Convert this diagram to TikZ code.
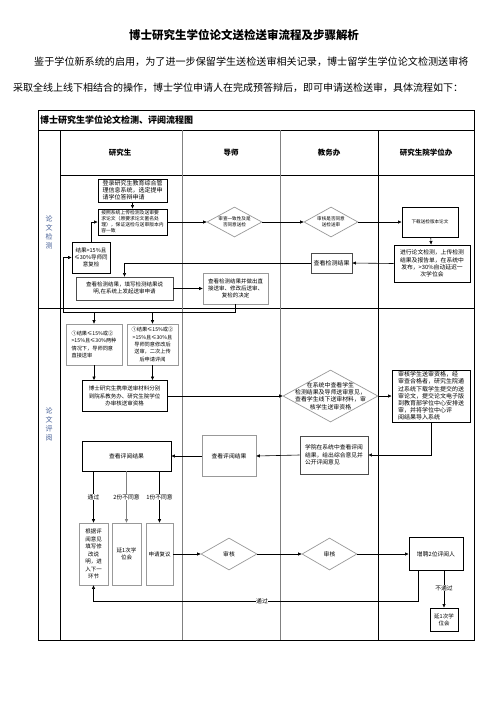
\documentclass[tikz,border=0pt]{standalone}
\usepackage{fontspec}
\setmainfont{Noto Sans CJK SC}
\usetikzlibrary{shapes.geometric,arrows.meta,calc}
\newcommand{\myfz}[2]{\fontsize{#1pt}{#2pt}\selectfont}
\definecolor{seclab}{RGB}{70,95,150}
\begin{document}
\begin{tikzpicture}[x=1pt,y=-1pt,
  bx/.style={draw, line width=0.9pt, inner sep=1pt, align=center},
  gbx/.style={bx, draw=gray!80, line width=0.7pt},
  dbx/.style={bx, draw=black!70, line width=0.8pt},
  dia/.style={diamond, draw=gray!80, line width=0.7pt, inner sep=0pt, aspect=1.8},
  arr/.style={-{Triangle[length=3.5pt,width=3pt]}, line width=0.6pt},
  ln/.style={line width=0.6pt},
  lab/.style={fill=white, inner sep=0.6pt, font=\myfz{5.8}{7}},
  colhead/.style={font=\bfseries\myfz{7.5}{8}},
  sec/.style={font=\myfz{7}{9}, text=seclab, align=center}
]
\fill[white] (0,0) rectangle (496,702);
\useasboundingbox (0,0) rectangle (496,702);

% title and paragraph
\node[font=\bfseries\myfz{11.5}{12}] (title) at (244,35) {博士研究生学位论文送检送审流程及步骤解析};
\node[anchor=west, font=\myfz{10.1}{12}, inner sep=0] (p1) at (34,62) {鉴于学位新系统的启用，为了进一步保留学生送检送审相关记录，博士留学生学位论文检测送审将};
\node[anchor=west, font=\myfz{10}{12}, inner sep=0] (p2) at (13,88) {采取全线上线下相结合的操作，博士学位申请人在完成预答辩后，即可申请送检送审，具体流程如下：};

% table frame
\draw[line width=0.8pt] (38,110) rectangle (474,640);
\draw[line width=0.7pt] (38,130) -- (474,130);
\draw[line width=0.7pt] (60,175) -- (474,175);
\draw[line width=0.7pt] (38,308) -- (474,308);
\draw[line width=0.7pt] (60,130) -- (60,640);
\draw[line width=0.6pt, gray] (182,130) -- (182,640);
\draw[line width=0.6pt, gray] (280,130) -- (280,640);
\draw[line width=0.7pt] (378,130) -- (378,640);

\node[anchor=west, font=\bfseries\myfz{9}{10}, inner sep=0] (th) at (40,120) {博士研究生学位论文检测、评阅流程图};
\node[colhead] (h1) at (120,153) {研究生};
\node[colhead] (h2) at (231,153) {导师};
\node[colhead] (h3) at (329,153) {教务办};
\node[colhead] (h4) at (426,153) {研究生院学位办};
\node[sec] (s1) at (49,232) {论\\文\\检\\测};
\node[sec] (s2) at (49,424) {论\\文\\评\\阅};

% ---- 论文检测 ----
\node[bx, minimum width=69pt, minimum height=23pt, font=\myfz{6}{7}, align=left] (A) at (132.5,190.5) {登录研究生教育综合管\\理信息系统，选定提申\\请学位答辩申请};
\node[bx, minimum width=69pt, minimum height=26pt, font=\myfz{4.8}{6}, align=left] (B) at (132.5,222) {按照系统上传检测及送审要\\求论文（原要求论文匿名处\\理），保证送检与送审版本内\\容一致};
\node[dia, minimum width=55pt, minimum height=30pt] (D1) at (234.5,222) {};
\node[font=\myfz{4.6}{6}, align=center, inner sep=0] (D1t) at (D1) {审查一致性及是\\否同意送检};
\node[dia, minimum width=54pt, minimum height=30pt] (D2) at (331,222) {};
\node[font=\myfz{4.6}{6}, align=center, inner sep=0] (D2t) at (D2) {审核是否同意\\送检送审};
\node[bx, minimum width=56pt, minimum height=30pt, font=\myfz{4.6}{6}] (C) at (430,222) {下载送检版本论文};
\node[bx, minimum width=76pt, minimum height=37pt, font=\myfz{5.8}{7.2}] (E) at (432,263.5) {进行论文检测，上传检测\\结果及报告单，在系统中\\发布，>30\%自动延迟一\\次学位会};
\node[dbx, minimum width=41pt, minimum height=20pt, font=\myfz{6}{7}] (F) at (331.5,263) {查看检测结果};
\node[bx, minimum width=38pt, minimum height=31pt, font=\myfz{5.5}{7}] (K) at (91,257.5) {结果>15\%且\\≤30\%导师同\\意复检};
\node[dbx, minimum width=97pt, minimum height=23pt, font=\myfz{5.5}{7}] (G) at (124.5,288.5) {查看检测结果，填写检测结果说\\明,在系统上发起送审申请};
\node[gbx, minimum width=65pt, minimum height=31pt, font=\myfz{5.5}{7}] (H) at (235.5,288.5) {查看检测结果并做出直\\接送审、修改后送审、\\复检的决定};

\draw[arr] (A) -- (B);
\draw[arr] (B) -- (D1);
\draw[arr] (D1) -- (D2);
\draw[arr] (D2) -- (C);
\draw[arr] (C) -- (E);
\draw[arr] (E.west) -- (F.east);
\draw[arr] (F.west) -| (G.north);
\draw[arr] (G.east) -- (H.west);
\draw[arr] (K.north) |- (B.west);
\coordinate (j1) at (63,312);
\draw[arr] (H.south) |- (j1) |- (K.west);

% ---- 论文评阅 ----
\node[gbx, minimum width=56pt, minimum height=41pt, font=\myfz{5.2}{7.6}, align=left] (L1) at (94,344.5) {①结果≤15\%或②\\>15\%且≤30\%两种\\情况下，导师同意\\直接送审};
\node[gbx, minimum width=51pt, minimum height=41pt, font=\myfz{5.2}{7.4}] (L2) at (152.5,344.5) {①结果≤15\%或②\\>15\%且≤30\%且\\导师同意修改后\\送审，二次上传\\后申请评阅};
\draw[arr] (L1.north |- j1) -- (L1.north);
\draw[arr] (L2.north |- j1) -- (L2.north);

\node[bx, minimum width=85pt, minimum height=31pt, font=\myfz{5.5}{7.5}] (M) at (124.5,396) {博士研究生携带送审材料分别\\到院系教务办、研究生院学位\\办审核送审资格};
\draw[arr] (L1.south) -- (L1.south |- M.north);
\draw[arr] (L2.south) -- (L2.south |- M.north);

\node[dia, minimum width=95pt, minimum height=52pt, aspect=1.83] (N) at (330.5,396) {};
\node[font=\myfz{5.9}{7.3}, align=center, inner sep=0] (Nt) at (N) {在系统中查看学生\\检测结果及导师送审意见，\\查看学生线下送审材料，审\\核学生送审资格};
\node[bx, minimum width=78pt, minimum height=52pt, font=\myfz{6}{7.2}, align=left] (P) at (431,396) {审核学生送审资格，经\\审查合格者，研究生院通\\过系统下载学生提交的送\\审论文，提交论文电子版\\到教育部学位中心安排送\\审，并将学位中心评\\阅结果导入系统};
\draw[arr] (M.east) -- (N.west);
\draw[arr] (N.east) -- (P.west);

\node[dbx, minimum width=68pt, minimum height=38pt, font=\myfz{5.8}{7.5}, align=left] (Q) at (334,455) {学院在系统中查看评阅\\结果，给出综合意见并\\公开评阅意见};
\node[gbx, minimum width=54pt, minimum height=41pt, font=\myfz{5.8}{7}] (R) at (229,456) {查看评阅结果};
\node[bx, minimum width=89pt, minimum height=30pt, font=\myfz{5.8}{7}] (S) at (126.5,456) {查看评阅结果};
\draw[arr] (P.south) |- (Q.east);
\draw[arr] (Q.west) -- (R.east);
\draw[arr] (R.west) -- (S.east);

\node[gbx, minimum width=29pt, minimum height=62pt, font=\myfz{5.5}{7.5}] (T1) at (93.5,554) {根据评\\阅意见\\填写修\\改说\\明，进\\入下一\\环节};
\node[gbx, minimum width=29pt, minimum height=62pt, font=\myfz{5.5}{7.5}] (T2) at (126.5,554) {延1次学\\位会};
\node[gbx, minimum width=27pt, minimum height=62pt, font=\myfz{5.5}{7.5}] (T3) at (159.5,554) {申请复议};
\draw[arr] (T1.north |- S.south) -- (T1.north);
\draw[arr, gray] (T2.north |- S.south) -- (T2.north);
\draw[arr] (T3.north |- S.south) -- (T3.north);
\node[lab] (l1) at (93.5,497) {通过};
\node[lab] (l2) at (126.5,497) {2份不同意};
\node[lab] (l3) at (159.5,497) {1份不同意};

\node[dia, minimum width=56pt, minimum height=32pt, aspect=1.75] (U) at (229,554) {};
\node[font=\myfz{5.8}{7}, inner sep=0] (Ut) at (U) {审核};
\node[dia, minimum width=55pt, minimum height=32pt, aspect=1.72] (V) at (329.5,554) {};
\node[font=\myfz{5.8}{7}, inner sep=0] (Vt) at (V) {审核};
\node[bx, minimum width=54pt, minimum height=33pt, font=\myfz{5.8}{7}] (W) at (436,554) {增聘2位评阅人};
\node[bx, minimum width=28pt, minimum height=23pt, font=\myfz{5.5}{7}] (X) at (444,619.5) {延1次学\\位会};
\draw[arr] (T3.east) -- (U.west);
\draw[arr] (U.east) -- (V.west);
\draw[arr] (V.east) -- (W.west);

\coordinate (w1) at (418,601);
\draw[arr] (W.south -| w1) -- (w1) -| (T1.south);
\node[lab] (l4) at (262,601) {通过};
\draw[arr] (X.north |- W.south) -- (X.north);
\node[lab] (l5) at (444,588) {不通过};
\end{tikzpicture}
\end{document}
